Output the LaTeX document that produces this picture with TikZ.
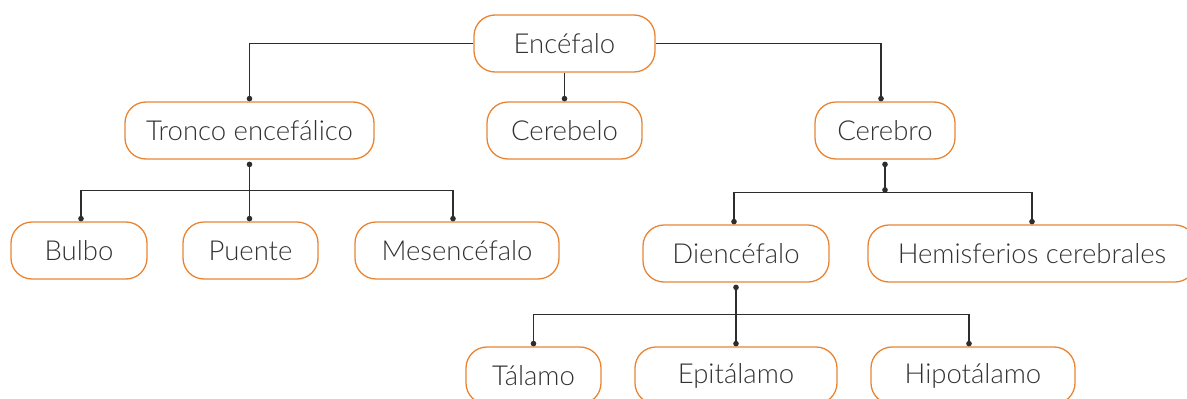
\documentclass[tikz,border=0pt]{standalone}
\usepackage{fontspec}
\setmainfont{Lato Light}
\usetikzlibrary{arrows.meta}
\definecolor{boxorange}{RGB}{232,133,52}
\definecolor{linegray}{RGB}{45,45,45}
\definecolor{textgray}{RGB}{50,50,50}
\begin{document}
\begin{tikzpicture}[x=1pt,y=-1pt,
  box/.style={draw=boxorange, line width=1.3pt, rounded corners=21pt, minimum height=57pt, text=textgray, font=\fontsize{27.5}{32}\selectfont, inner sep=0pt},
  conn/.style={draw=linegray, line width=1.3pt},
  ]
\useasboundingbox (0,0) rectangle (1187,399);
\begin{scope}
\clip (0,0) rectangle (1187,399);
\node[box, minimum width=181pt] (enc) at (564.5,43.5) {Encéfalo};
\node[box, minimum width=249pt] (tron) at (249.5,130.5) {Tronco encefálico};
\node[box, minimum width=155pt] (cbl) at (564.5,130.5) {Cerebelo};
\node[box, minimum width=140pt] (cer) at (885,130.5) {Cerebro};
\node[box, minimum width=136pt] (bul) at (79,250.5) {Bulbo};
\node[box, minimum width=135pt] (pue) at (250.5,250.5) {Puente};
\node[box, minimum width=204pt] (mes) at (457,250.5) {Mesencéfalo};
\node[box, minimum width=186pt] (die) at (736,253.5) {Diencéfalo};
\node[box, minimum width=328pt] (hem) at (1032,253.5) {Hemisferios cerebrales};
\node[box, minimum width=135pt] (tal) at (533.5,375.5) {Tálamo};
\node[box, minimum width=202pt] (epi) at (736,375.5) {Epitálamo};
\node[box, minimum width=204pt] (hip) at (973,375.5) {Hipotálamo};

% Encefalo branches
\draw[conn,-{Circle[length=5.5pt]}] (enc.west) -| (tron.north);
\draw[conn,-{Circle[length=5.5pt]}] (enc.east) -| ([xshift=-4pt]cer.north);
\draw[conn,-{Circle[length=5.5pt]}] (enc.south) -- (cbl.north);

% Tronco branches
\draw[conn,{Circle[length=5.5pt]}-{Circle[length=5.5pt]}, shorten <=2pt] (tron.south) -- (tron.south |- pue.north);
\coordinate (tj) at ([yshift=-31pt]tron.south);
\draw[conn,{Circle[length=5.5pt]}-{Circle[length=5.5pt]}] ([xshift=2pt]bul.north) |- (tj) -| ([xshift=-4pt]mes.north);

% Cerebro branches
\coordinate (cj) at ([yshift=-33pt]cer.south);
\draw[conn,{Circle[length=5.5pt]}-{Circle[length=5.5pt]}, shorten <=2pt] (cer.south) -- (cj);
\draw[conn,{Circle[length=5.5pt]}-{Circle[length=5.5pt]}] ([xshift=-2pt]die.north) |- (cj) -| (hem.north);

% Diencefalo branches
\draw[conn,{Circle[length=5.5pt]}-{Circle[length=5.5pt]}, shorten <=2pt] (die.south) -- (die.south |- epi.north);
\coordinate (dj) at ([yshift=-32pt]die.south);
\draw[conn,{Circle[length=5.5pt]}-{Circle[length=5.5pt]}] (tal.north) |- (dj) -| ([xshift=-4pt]hip.north);
\end{scope}
\end{tikzpicture}
\end{document}
